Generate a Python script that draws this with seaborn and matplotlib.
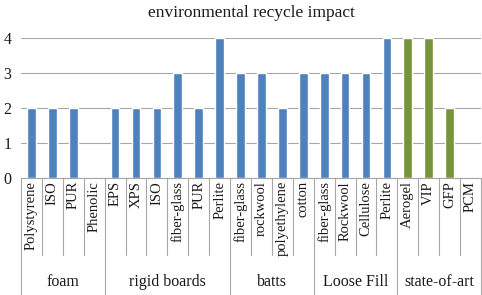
import numpy as np
import pandas as pd
import seaborn as sns
import matplotlib.pyplot as plt
from matplotlib.transforms import blended_transform_factory

# data
groups = ['foam', 'rigid boards', 'batts', 'Loose Fill', 'state-of-art']
items = [
    ['Polystyrene', 'ISO', 'PUR', 'Phenolic'],
    ['EPS', 'XPS', 'ISO', 'fiber-glass', 'PUR', 'Perlite'],
    ['fiber-glass', 'rockwool', 'polyethylene', 'cotton'],
    ['fiber-glass', 'Rockwool', 'Cellulose', 'Perlite'],
    ['Aerogel', 'VIP', 'GFP', 'PCM'],
]
scores = [
    [2, 2, 2, 0],
    [2, 2, 2, 3, 2, 4],
    [3, 3, 2, 3],
    [3, 3, 3, 4],
    [4, 4, 2, 0],
]

rows = []
for g, its, vals in zip(groups, items, scores):
    for it, v in zip(its, vals):
        rows.append({'group': g, 'item': it, 'score': v,
                     'kind': 'new' if g == 'state-of-art' else 'classic'})
df = pd.DataFrame(rows)
df['pos'] = np.arange(len(df))

sns.set_style('white')
plt.rcParams['font.family'] = ['Liberation Serif', 'DejaVu Serif']
plt.rcParams['text.color'] = '#1a1a1a'
plt.rcParams['ytick.color'] = '#1a1a1a'

fig = plt.figure(figsize=(4.82, 2.95), dpi=100)
ax = fig.add_axes([21 / 482, 117 / 295, 460 / 482, 140 / 295])

sns.barplot(data=df, x='pos', y='score', hue='kind', dodge=False, width=0.42,
            palette={'classic': '#4F81BD', 'new': '#77933C'}, legend=False,
            saturation=1, ax=ax)

ax.set_ylim(0, 4)
ax.set_xlim(-0.5, len(df) - 0.5)
ax.set_yticks(range(5))
ax.yaxis.grid(True, color='#A6A6A6', lw=0.8)
ax.set_axisbelow(True)
for s in ['top', 'right', 'left']:
    ax.spines[s].set_visible(False)
ax.spines['bottom'].set_color('#A6A6A6')
ax.tick_params(axis='y', length=0, labelsize=11.5, pad=7)
ax.set_xticks([])
ax.set_xlabel('')
ax.set_ylabel('')
ax.set_title('environmental recycle impact', fontsize=12.5, pad=15)

# hierarchical category axis
tr = blended_transform_factory(ax.transData, ax.transAxes)
line_kw = dict(color='#A6A6A6', lw=0.8, clip_on=False, transform=tr)
item_bottom = -(255 - 178) / 140
group_bottom = -(295 - 178) / 140
start = -0.5
for g, its in zip(groups, items):
    end = start + len(its)
    ax.plot([start, start], [0, group_bottom], **line_kw)
    for k in range(1, len(its)):
        ax.plot([start + k, start + k], [0, item_bottom], **line_kw)
    ax.text((start + end) / 2, -(282 - 178) / 140, g, transform=tr,
            ha='center', va='center', fontsize=11.5)
    start = end
ax.plot([start, start], [0, group_bottom], **line_kw)

for p, it in zip(df['pos'], df['item']):
    ax.text(p, -3 / 140, it, transform=tr, rotation=90,
            ha='center', va='top', fontsize=10.5)

fig.savefig('out.png', dpi=100)
